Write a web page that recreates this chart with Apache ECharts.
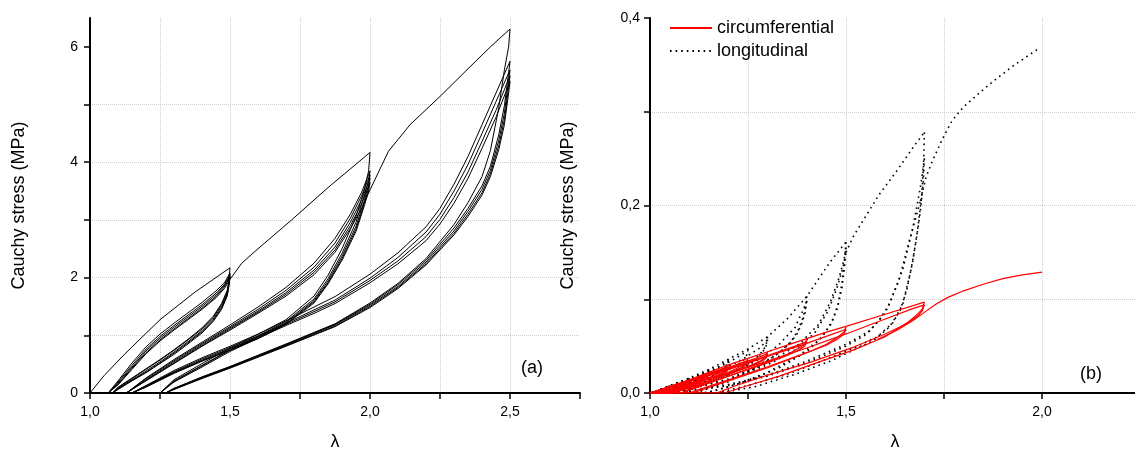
<!DOCTYPE html>
<html>
<head>
<meta charset="utf-8">
<title>Cauchy stress vs stretch</title>
<script src="https://cdn.jsdelivr.net/npm/echarts@6/dist/echarts.min.js"></script>
<style>
  html, body { margin: 0; padding: 0; background: #fff; }
  #chart { width: 1135px; height: 450px; }
</style>
</head>
<body>
<div id="chart"></div>
<script>
// ---------- panel (a): cyclic tests, black lines ----------
// first loading path, split where the loops interrupt it
const envA = [[1.0, 0], [1.05, 0.3], [1.125, 0.68], [1.25, 1.27], [1.375, 1.75], [1.5, 2.17]];
const envB = [[1.5, 1.97], [1.542, 2.25], [1.6, 2.5], [1.72, 3.0], [1.85, 3.56], [2.0, 4.17]];
const envC = [[2.0, 3.52], [2.066, 4.19], [2.143, 4.65], [2.25, 5.14], [2.35, 5.62], [2.43, 6.0], [2.5, 6.31]];

// loops up to lambda = 1.5
const g1DownLam = [1.5, 1.495, 1.49, 1.47, 1.44, 1.4, 1.35, 1.3, 1.25, 1.2, 1.15, 1.1, 1.08];
const g1Down = [
  [2.17, 1.92, 1.78, 1.55, 1.33, 1.13, 0.93, 0.75, 0.58, 0.42, 0.26, 0.10, 0],
  [2.08, 1.88, 1.75, 1.53, 1.31, 1.11, 0.92, 0.74, 0.57, 0.41, 0.25, 0.09, 0],
  [2.05, 1.86, 1.72, 1.50, 1.28, 1.08, 0.89, 0.71, 0.54, 0.38, 0.23, 0.08, 0],
  [2.03, 1.84, 1.70, 1.47, 1.26, 1.06, 0.87, 0.69, 0.52, 0.36, 0.22, 0.07, 0],
  [2.01, 1.82, 1.68, 1.45, 1.24, 1.04, 0.85, 0.67, 0.51, 0.35, 0.21, 0.06, 0]
];
const g1UpLam = [1.065, 1.1, 1.15, 1.2, 1.25, 1.3, 1.35, 1.4, 1.45, 1.48, 1.5];
const g1Up = [
  [0, 0.21, 0.52, 0.80, 1.02, 1.21, 1.39, 1.57, 1.77, 1.91, 2.08],
  [0, 0.19, 0.48, 0.76, 0.98, 1.17, 1.35, 1.53, 1.73, 1.88, 2.05],
  [0, 0.17, 0.45, 0.73, 0.95, 1.14, 1.32, 1.50, 1.70, 1.86, 2.03],
  [0, 0.15, 0.43, 0.70, 0.92, 1.11, 1.29, 1.47, 1.67, 1.84, 2.01],
  [0, 0.14, 0.41, 0.68, 0.90, 1.09, 1.27, 1.45, 1.65, 1.81, 1.97]
];

// loops up to lambda = 2.0
const g2DownLam = [2.0, 1.995, 1.98, 1.95, 1.9, 1.85, 1.8, 1.7, 1.6, 1.5, 1.4, 1.3, 1.2, 1.15];
const g2Down = [
  [4.17, 3.85, 3.52, 3.06, 2.50, 2.04, 1.68, 1.27, 1.02, 0.81, 0.61, 0.39, 0.13, 0],
  [3.85, 3.68, 3.42, 2.96, 2.42, 1.98, 1.63, 1.24, 0.99, 0.79, 0.59, 0.37, 0.12, 0],
  [3.78, 3.60, 3.34, 2.89, 2.37, 1.94, 1.60, 1.22, 0.97, 0.77, 0.57, 0.36, 0.12, 0],
  [3.72, 3.55, 3.29, 2.84, 2.33, 1.91, 1.58, 1.20, 0.95, 0.75, 0.56, 0.35, 0.11, 0],
  [3.65, 3.50, 3.25, 2.80, 2.30, 1.89, 1.56, 1.19, 0.94, 0.74, 0.55, 0.34, 0.10, 0]
];
const g2UpLam = [1.13, 1.2, 1.3, 1.4, 1.5, 1.6, 1.7, 1.8, 1.875, 1.93, 1.97, 2.0];
const g2Up = [
  [0, 0.26, 0.58, 0.88, 1.18, 1.49, 1.83, 2.25, 2.68, 3.10, 3.48, 3.85],
  [0, 0.25, 0.56, 0.86, 1.15, 1.45, 1.78, 2.18, 2.60, 3.03, 3.42, 3.78],
  [0, 0.23, 0.54, 0.84, 1.13, 1.42, 1.74, 2.13, 2.53, 2.96, 3.35, 3.72],
  [0, 0.22, 0.52, 0.82, 1.11, 1.40, 1.71, 2.09, 2.48, 2.90, 3.28, 3.65],
  [0, 0.21, 0.51, 0.81, 1.09, 1.38, 1.68, 2.05, 2.44, 2.85, 3.20, 3.52]
];

// loops up to lambda = 2.5
const g3DownLam = [2.5, 2.495, 2.48, 2.46, 2.43, 2.4, 2.35, 2.3, 2.2, 2.1, 2.0, 1.875, 1.7, 1.5, 1.4, 1.3, 1.27];
const g3Down = [
  [6.31, 6.00, 5.60, 4.95, 4.20, 3.75, 3.30, 2.92, 2.33, 1.90, 1.56, 1.20, 0.85, 0.46, 0.28, 0.08, 0],
  [5.75, 5.55, 4.98, 4.48, 3.93, 3.59, 3.20, 2.86, 2.30, 1.88, 1.54, 1.19, 0.84, 0.45, 0.27, 0.08, 0],
  [5.60, 5.42, 4.85, 4.38, 3.86, 3.53, 3.15, 2.81, 2.27, 1.85, 1.52, 1.18, 0.83, 0.45, 0.27, 0.07, 0],
  [5.50, 5.30, 4.74, 4.29, 3.80, 3.47, 3.10, 2.77, 2.24, 1.83, 1.50, 1.16, 0.82, 0.44, 0.26, 0.07, 0],
  [5.40, 5.20, 4.65, 4.22, 3.75, 3.43, 3.06, 2.74, 2.22, 1.81, 1.48, 1.15, 0.81, 0.43, 0.25, 0.06, 0]
];
const g3UpLam = [1.25, 1.3, 1.4, 1.5, 1.6, 1.7, 1.8, 1.875, 2.0, 2.1, 2.2, 2.25, 2.3, 2.35, 2.4, 2.45, 2.5];
const g3Up = [
  [0, 0.23, 0.51, 0.78, 1.02, 1.25, 1.49, 1.67, 2.06, 2.43, 2.88, 3.20, 3.62, 4.10, 4.65, 5.20, 5.75],
  [0, 0.21, 0.48, 0.75, 0.99, 1.21, 1.44, 1.61, 1.99, 2.35, 2.79, 3.10, 3.50, 3.96, 4.50, 5.05, 5.60],
  [0, 0.20, 0.47, 0.74, 0.97, 1.19, 1.41, 1.58, 1.95, 2.29, 2.71, 3.01, 3.39, 3.83, 4.36, 4.90, 5.50],
  [0, 0.19, 0.45, 0.72, 0.95, 1.17, 1.38, 1.55, 1.91, 2.24, 2.64, 2.93, 3.29, 3.72, 4.24, 4.78, 5.40]
];

// ---------- panel (b): circumferential (red) ----------
const redEnv = [[1.0, 0], [1.03, 0.004], [1.05, 0.007], [1.1, 0.014], [1.15, 0.022], [1.2, 0.03], [1.25, 0.037],
  [1.3, 0.044], [1.35, 0.051], [1.4, 0.058], [1.45, 0.065], [1.5, 0.071], [1.6, 0.084], [1.7, 0.097]];
const redTail = [[1.58, 0.057], [1.63, 0.067], [1.67, 0.077], [1.7, 0.086], [1.73, 0.095], [1.76, 0.102],
  [1.8, 0.109], [1.85, 0.116], [1.9, 0.122], [1.95, 0.126], [2.0, 0.129]];
const redLoops = [
  // peak 1.7
  [[1.7, 0.097], [1.695, 0.09], [1.685, 0.085], [1.66, 0.076], [1.6, 0.06], [1.52, 0.046], [1.41, 0.03], [1.33, 0.018], [1.25, 0.008], [1.19, 0], [1.0, 0]],
  [[1.0, 0], [1.1, 0.01], [1.2, 0.021], [1.3, 0.034], [1.4, 0.048], [1.5, 0.063], [1.6, 0.079], [1.67, 0.09], [1.7, 0.094]],
  [[1.7, 0.094], [1.695, 0.088], [1.683, 0.082], [1.65, 0.073], [1.6, 0.063], [1.52, 0.049], [1.41, 0.033], [1.3, 0.019], [1.22, 0.008], [1.17, 0], [1.0, 0]],
  // peak 1.5
  [[1.5, 0.071], [1.495, 0.065], [1.48, 0.06], [1.45, 0.052], [1.4, 0.043], [1.3, 0.027], [1.2, 0.013], [1.13, 0.003], [1.11, 0], [1.0, 0]],
  [[1.0, 0], [1.1, 0.012], [1.2, 0.025], [1.3, 0.039], [1.4, 0.053], [1.46, 0.062], [1.5, 0.068]],
  [[1.5, 0.068], [1.495, 0.063], [1.48, 0.058], [1.45, 0.051], [1.4, 0.043], [1.3, 0.028], [1.2, 0.014], [1.12, 0.003], [1.1, 0], [1.0, 0]],
  // peak 1.4
  [[1.4, 0.058], [1.395, 0.052], [1.38, 0.048], [1.35, 0.041], [1.3, 0.033], [1.2, 0.018], [1.12, 0.006], [1.08, 0], [1.0, 0]],
  [[1.0, 0], [1.1, 0.013], [1.2, 0.026], [1.3, 0.04], [1.37, 0.05], [1.4, 0.055]],
  [[1.4, 0.055], [1.395, 0.05], [1.38, 0.046], [1.35, 0.04], [1.3, 0.032], [1.2, 0.018], [1.1, 0.004], [1.08, 0], [1.0, 0]],
  // peak 1.3
  [[1.3, 0.044], [1.296, 0.039], [1.285, 0.035], [1.26, 0.03], [1.2, 0.021], [1.12, 0.008], [1.06, 0], [1.0, 0]],
  [[1.0, 0], [1.1, 0.013], [1.2, 0.027], [1.27, 0.037], [1.3, 0.042]],
  [[1.3, 0.042], [1.296, 0.037], [1.285, 0.034], [1.26, 0.029], [1.2, 0.02], [1.1, 0.006], [1.06, 0], [1.0, 0]],
  // peak 1.25
  [[1.25, 0.037], [1.246, 0.032], [1.235, 0.029], [1.21, 0.024], [1.15, 0.013], [1.08, 0.003], [1.05, 0], [1.0, 0]],
  [[1.0, 0], [1.1, 0.013], [1.2, 0.027], [1.25, 0.035]],
  [[1.25, 0.035], [1.246, 0.031], [1.233, 0.027], [1.2, 0.021], [1.13, 0.009], [1.06, 0.001], [1.05, 0], [1.0, 0]],
  // peak 1.2
  [[1.2, 0.03], [1.197, 0.026], [1.188, 0.023], [1.17, 0.02], [1.12, 0.011], [1.06, 0.002], [1.04, 0], [1.0, 0]],
  [[1.0, 0], [1.05, 0.006], [1.1, 0.013], [1.15, 0.021], [1.2, 0.028]],
  [[1.2, 0.028], [1.197, 0.024], [1.185, 0.021], [1.16, 0.017], [1.1, 0.008], [1.05, 0.001], [1.04, 0], [1.0, 0]],
  [[1.0, 0], [1.05, 0.005], [1.1, 0.012], [1.15, 0.02], [1.2, 0.027]],
  [[1.2, 0.027], [1.196, 0.023], [1.183, 0.02], [1.15, 0.015], [1.1, 0.007], [1.05, 0.001], [1.0, 0]],
  // peak 1.15
  [[1.15, 0.022], [1.147, 0.019], [1.14, 0.017], [1.12, 0.013], [1.08, 0.006], [1.03, 0], [1.0, 0]],
  [[1.0, 0], [1.05, 0.006], [1.1, 0.013], [1.15, 0.021]],
  [[1.15, 0.021], [1.147, 0.018], [1.138, 0.016], [1.11, 0.011], [1.06, 0.003], [1.03, 0], [1.0, 0]],
  [[1.0, 0], [1.05, 0.006], [1.1, 0.012], [1.15, 0.02]],
  [[1.15, 0.02], [1.146, 0.017], [1.135, 0.015], [1.1, 0.009], [1.05, 0.002], [1.0, 0]],
  // peak 1.1
  [[1.1, 0.014], [1.097, 0.011], [1.09, 0.009], [1.07, 0.006], [1.04, 0.002], [1.02, 0], [1.0, 0]],
  [[1.0, 0], [1.05, 0.006], [1.1, 0.013]],
  [[1.1, 0.013], [1.097, 0.01], [1.088, 0.008], [1.06, 0.004], [1.03, 0.001], [1.02, 0], [1.0, 0]],
  // peak 1.05
  [[1.05, 0.007], [1.047, 0.005], [1.04, 0.003], [1.02, 0.001], [1.01, 0], [1.0, 0]],
  [[1.0, 0], [1.03, 0.004], [1.05, 0.007]]
];

// ---------- panel (b): longitudinal (dotted) ----------
const dotEnv = [[1.0, 0], [1.05, 0.008], [1.1, 0.016], [1.15, 0.025], [1.2, 0.036], [1.25, 0.047], [1.3, 0.06],
  [1.35, 0.079], [1.4, 0.103], [1.458, 0.139], [1.5, 0.161]];
const dotEnv2 = [[1.5, 0.15], [1.52, 0.168], [1.551, 0.189], [1.585, 0.212], [1.628, 0.236], [1.678, 0.266], [1.7, 0.278]];
const dotEnv3 = [[1.69, 0.205], [1.704, 0.23], [1.72, 0.247], [1.746, 0.271], [1.77, 0.29], [1.797, 0.304],
  [1.84, 0.32], [1.874, 0.332], [1.93, 0.35], [1.99, 0.367]];
const dotLoops = [
  // peak 1.7
  [[1.7, 0.278], [1.698, 0.245], [1.693, 0.21], [1.683, 0.175], [1.67, 0.14], [1.655, 0.11], [1.638, 0.088], [1.61, 0.07],
    [1.57, 0.056], [1.52, 0.046], [1.46, 0.034], [1.37, 0.02], [1.27, 0.007], [1.18, 0], [1.0, 0]],
  [[1.0, 0], [1.1, 0.002], [1.2, 0.008], [1.3, 0.018], [1.4, 0.032], [1.5, 0.05], [1.55, 0.062], [1.585, 0.078],
    [1.611, 0.095], [1.645, 0.132], [1.67, 0.175], [1.69, 0.22], [1.7, 0.25]],
  [[1.7, 0.25], [1.697, 0.225], [1.69, 0.195], [1.678, 0.16], [1.665, 0.13], [1.645, 0.095], [1.62, 0.075], [1.58, 0.06],
    [1.52, 0.048], [1.45, 0.036], [1.35, 0.02], [1.25, 0.008], [1.17, 0], [1.0, 0]],
  [[1.0, 0], [1.1, 0.002], [1.2, 0.009], [1.3, 0.019], [1.4, 0.034], [1.5, 0.052], [1.56, 0.066], [1.6, 0.085],
    [1.635, 0.12], [1.66, 0.16], [1.68, 0.19], [1.69, 0.205]],
  // peak 1.5
  [[1.5, 0.161], [1.496, 0.14], [1.49, 0.118], [1.48, 0.095], [1.465, 0.077], [1.44, 0.06], [1.4, 0.044], [1.33, 0.027],
    [1.25, 0.013], [1.17, 0.003], [1.14, 0], [1.0, 0]],
  [[1.0, 0], [1.1, 0.005], [1.2, 0.015], [1.3, 0.032], [1.38, 0.052], [1.43, 0.073], [1.46, 0.097], [1.48, 0.12], [1.495, 0.142], [1.5, 0.155]],
  [[1.5, 0.155], [1.496, 0.134], [1.49, 0.113], [1.478, 0.09], [1.46, 0.072], [1.43, 0.056], [1.38, 0.04], [1.3, 0.022],
    [1.22, 0.009], [1.15, 0.001], [1.13, 0], [1.0, 0]],
  [[1.0, 0], [1.1, 0.004], [1.2, 0.014], [1.3, 0.03], [1.37, 0.046], [1.42, 0.064], [1.455, 0.088], [1.477, 0.112], [1.493, 0.135], [1.5, 0.15]],
  // peak 1.4
  [[1.4, 0.103], [1.397, 0.092], [1.39, 0.08], [1.378, 0.067], [1.36, 0.055], [1.33, 0.043], [1.28, 0.029], [1.2, 0.012], [1.13, 0.002], [1.11, 0], [1.0, 0]],
  [[1.0, 0], [1.1, 0.007], [1.2, 0.02], [1.28, 0.036], [1.33, 0.052], [1.37, 0.07], [1.39, 0.088], [1.4, 0.098]],
  [[1.4, 0.098], [1.396, 0.086], [1.388, 0.075], [1.375, 0.063], [1.355, 0.052], [1.32, 0.04], [1.26, 0.026], [1.18, 0.01], [1.11, 0], [1.0, 0]],
  // peak 1.3
  [[1.3, 0.06], [1.297, 0.053], [1.29, 0.046], [1.275, 0.039], [1.25, 0.031], [1.2, 0.019], [1.12, 0.006], [1.08, 0], [1.0, 0]],
  [[1.0, 0], [1.1, 0.011], [1.18, 0.024], [1.24, 0.037], [1.28, 0.048], [1.3, 0.057]],
  [[1.3, 0.057], [1.296, 0.05], [1.288, 0.044], [1.27, 0.036], [1.24, 0.028], [1.18, 0.016], [1.1, 0.004], [1.07, 0], [1.0, 0]],
  // peak 1.25
  [[1.25, 0.047], [1.247, 0.041], [1.24, 0.036], [1.22, 0.029], [1.17, 0.018], [1.1, 0.006], [1.06, 0], [1.0, 0]],
  [[1.0, 0], [1.08, 0.01], [1.15, 0.022], [1.21, 0.035], [1.25, 0.045]],
  // peak 1.2
  [[1.2, 0.036], [1.197, 0.031], [1.19, 0.027], [1.17, 0.021], [1.13, 0.013], [1.07, 0.003], [1.05, 0], [1.0, 0]],
  [[1.0, 0], [1.06, 0.008], [1.12, 0.018], [1.17, 0.027], [1.2, 0.034]],
  [[1.2, 0.034], [1.196, 0.029], [1.187, 0.025], [1.16, 0.018], [1.11, 0.009], [1.06, 0.002], [1.0, 0]],
  // peak 1.15
  [[1.15, 0.025], [1.147, 0.021], [1.14, 0.018], [1.12, 0.014], [1.08, 0.007], [1.04, 0.001], [1.03, 0], [1.0, 0]],
  [[1.0, 0], [1.05, 0.007], [1.1, 0.014], [1.13, 0.02], [1.15, 0.024]],
  [[1.15, 0.024], [1.146, 0.02], [1.137, 0.017], [1.11, 0.012], [1.06, 0.004], [1.0, 0]],
  // peak 1.1
  [[1.1, 0.016], [1.097, 0.013], [1.09, 0.011], [1.07, 0.007], [1.04, 0.002], [1.02, 0], [1.0, 0]],
  [[1.0, 0], [1.04, 0.006], [1.07, 0.011], [1.1, 0.015]],
  // peak 1.05
  [[1.05, 0.008], [1.047, 0.006], [1.04, 0.004], [1.02, 0.001], [1.0, 0]]
];

const FONT = '"Liberation Sans", Arial, Helvetica, sans-serif';

function zip(lam, sig) {
  return lam.map((x, i) => [x, sig[i]]);
}

// "1,5" style labels, only every second tick is labelled
function commaLabel(step) {
  return function (v) {
    const k = v / step;
    if (Math.abs(k - Math.round(k)) > 1e-6) return '';
    return v.toFixed(1).replace('.', ',');
  };
}

function path(data, gridIdx, lineStyle, name) {
  return {
    type: 'line',
    name: name,
    xAxisIndex: gridIdx,
    yAxisIndex: gridIdx,
    data: data,
    symbol: 'none',
    showSymbol: false,
    silent: true,
    itemStyle: {color: lineStyle.color},
    lineStyle: lineStyle,
    z: name === 'circumferential' ? 3 : 2
  };
}

function axisCommon() {
  return {
    type: 'value',
    axisLine: {show: true, onZero: false, lineStyle: {color: '#000', width: 2}},
    axisTick: {show: true, inside: false, length: 6, lineStyle: {color: '#000', width: 1.5}},
    splitLine: {show: true, showMinLine: false, showMaxLine: false,
      lineStyle: {color: '#cdcdcd', type: 'dotted', width: 1}},
    nameTextStyle: {color: '#000', fontSize: 18, fontFamily: FONT},
    nameLocation: 'middle'
  };
}

function renderChart() {
  const chart = echarts.init(document.getElementById('chart'), null, {renderer: 'canvas'});

  const black = {color: '#000', width: 1};
  const red = {color: '#ff0000', width: 1.2};
  const dots = {color: '#000', width: 1.6, type: [1.6, 4], cap: 'butt'};

  const series = [];
  // panel (a)
  [envA, envB, envC].forEach(d => series.push(path(d, 0, black)));
  g1Down.forEach(s => series.push(path(zip(g1DownLam, s), 0, black)));
  g1Up.forEach(s => series.push(path(zip(g1UpLam, s), 0, black)));
  g2Down.forEach(s => series.push(path(zip(g2DownLam, s), 0, black)));
  g2Up.forEach(s => series.push(path(zip(g2UpLam, s), 0, black)));
  g3Down.forEach(s => series.push(path(zip(g3DownLam, s), 0, black)));
  g3Up.forEach(s => series.push(path(zip(g3UpLam, s), 0, black)));
  // panel (b)
  series.push(path(redEnv, 1, red, 'circumferential'));
  [dotEnv, dotEnv2, dotEnv3].forEach(d => series.push(path(d, 1, dots, 'longitudinal')));
  dotLoops.forEach(d => series.push(path(d, 1, dots, 'longitudinal')));
  redLoops.forEach(d => series.push(path(d, 1, red, 'circumferential')));
  series.push(path(redTail, 1, red, 'circumferential'));

  const labelStyle = {color: '#000', fontSize: 14, fontFamily: FONT};

  const option = {
    animation: false,
    backgroundColor: '#fff',
    textStyle: {fontFamily: FONT},
    grid: [
      {left: 90, right: 555, top: 18, bottom: 57, outerBoundsMode: 'none'},
      {left: 650, right: -5, top: 18, bottom: 57, outerBoundsMode: 'none'}
    ],
    xAxis: [
      Object.assign(axisCommon(), {
        gridIndex: 0, min: 1, max: 2.75, interval: 0.25,
        name: 'λ', nameGap: 40,
        axisLabel: Object.assign({margin: 12, formatter: commaLabel(0.5)}, labelStyle)
      }),
      Object.assign(axisCommon(), {
        gridIndex: 1, min: 1, max: 2.25, interval: 0.25,
        name: 'λ', nameGap: 40,
        axisLabel: Object.assign({margin: 12, formatter: commaLabel(0.5)}, labelStyle)
      })
    ],
    yAxis: [
      Object.assign(axisCommon(), {
        gridIndex: 0, min: 0, max: 6.5, interval: 1,
        name: 'Cauchy stress (MPa)', nameGap: 62,
        axisTick: {show: true, inside: false, length: 6, lineStyle: {color: '#000', width: 1.5},
          customValues: [0, 1, 2, 3, 4, 5, 6]},
        axisLabel: Object.assign({margin: 12, formatter: v => (v % 2 === 0 ? String(v) : '')}, labelStyle)
      }),
      Object.assign(axisCommon(), {
        gridIndex: 1, min: 0, max: 0.4, interval: 0.1,
        name: 'Cauchy stress (MPa)', nameGap: 73,
        axisLabel: Object.assign({margin: 10, formatter: commaLabel(0.2)}, labelStyle)
      })
    ],
    legend: {
      left: 669,
      top: 19,
      padding: 0,
      orient: 'vertical',
      itemWidth: 42,
      itemHeight: 18,
      itemGap: 5,
      selectedMode: false,
      itemStyle: {opacity: 0},
      data: ['circumferential', 'longitudinal'],
      textStyle: {color: '#000', fontSize: 18, fontFamily: FONT}
    },
    graphic: [
      {type: 'text', x: 532, y: 368, silent: true,
        style: {text: '(a)', fill: '#000', fontSize: 18, fontFamily: FONT, align: 'center', verticalAlign: 'middle'}},
      {type: 'text', x: 1091, y: 374, silent: true,
        style: {text: '(b)', fill: '#000', fontSize: 18, fontFamily: FONT, align: 'center', verticalAlign: 'middle'}}
    ],
    series: series
  };

  chart.setOption(option);
  return chart;
}

const chart = renderChart();
window.addEventListener('resize', function () {
  chart.resize();
});
</script>
</body>
</html>
